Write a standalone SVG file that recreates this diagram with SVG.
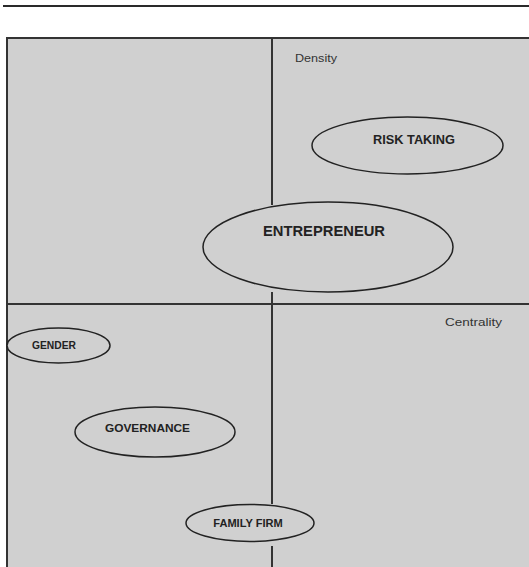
<svg xmlns="http://www.w3.org/2000/svg" width="529" height="567" viewBox="0 0 529 567">
  <style>
    .panel { fill: #d0d0d0; stroke: #333333; stroke-width: 2; }
    .axis { stroke: #333333; stroke-width: 2; fill: none; }
    .node ellipse { fill: #d0d0d0; stroke: #222222; stroke-width: 1.5; }
    .label { font-family: "Liberation Sans", Arial, sans-serif; font-weight: bold; fill: #222222; text-anchor: middle; }
    .axis-label { font-family: "Liberation Sans", Arial, sans-serif; fill: #333333; font-size: 11px; }
  </style>
  <rect width="529" height="567" fill="#ffffff"/>
  <!-- top rule -->
  <line x1="3" y1="6" x2="529" y2="6" stroke="#2a2a2a" stroke-width="2.2"/>
  <!-- plotting panel -->
  <rect class="panel" x="7" y="38" width="526" height="535"/>

  <g id="axes">
    <line class="axis" x1="7" y1="304" x2="529" y2="304"/>
    <line class="axis" x1="272" y1="38" x2="272" y2="205"/>
    <line class="axis" x1="272" y1="292" x2="272" y2="504"/>
    <line class="axis" x1="272" y1="546" x2="272" y2="567"/>
    <text class="axis-label" x="295" y="62" textLength="42" lengthAdjust="spacingAndGlyphs">Density</text>
    <text class="axis-label" x="445" y="326" textLength="57" lengthAdjust="spacingAndGlyphs">Centrality</text>
  </g>

  <g id="risk-taking" class="node">
    <ellipse cx="407.5" cy="145.5" rx="95.5" ry="28.5"/>
    <text class="label" x="414" y="144" font-size="13" textLength="82" lengthAdjust="spacingAndGlyphs">RISK TAKING</text>
  </g>

  <g id="entrepreneur" class="node">
    <ellipse cx="328" cy="247" rx="125" ry="45"/>
    <text class="label" x="324" y="235.5" font-size="15" textLength="122" lengthAdjust="spacingAndGlyphs">ENTREPRENEUR</text>
  </g>

  <g id="gender" class="node">
    <ellipse cx="58.5" cy="345.5" rx="51.5" ry="17.5"/>
    <text class="label" x="54" y="349" font-size="11" textLength="44" lengthAdjust="spacingAndGlyphs">GENDER</text>
  </g>

  <g id="governance" class="node">
    <ellipse cx="155" cy="432" rx="80" ry="25"/>
    <text class="label" x="147.5" y="432.3" font-size="11.5" textLength="85" lengthAdjust="spacingAndGlyphs">GOVERNANCE</text>
  </g>

  <g id="family-firm" class="node">
    <ellipse cx="250" cy="523" rx="64" ry="18.5"/>
    <text class="label" x="248" y="527" font-size="11" textLength="69.5" lengthAdjust="spacingAndGlyphs">FAMILY FIRM</text>
  </g>
</svg>
